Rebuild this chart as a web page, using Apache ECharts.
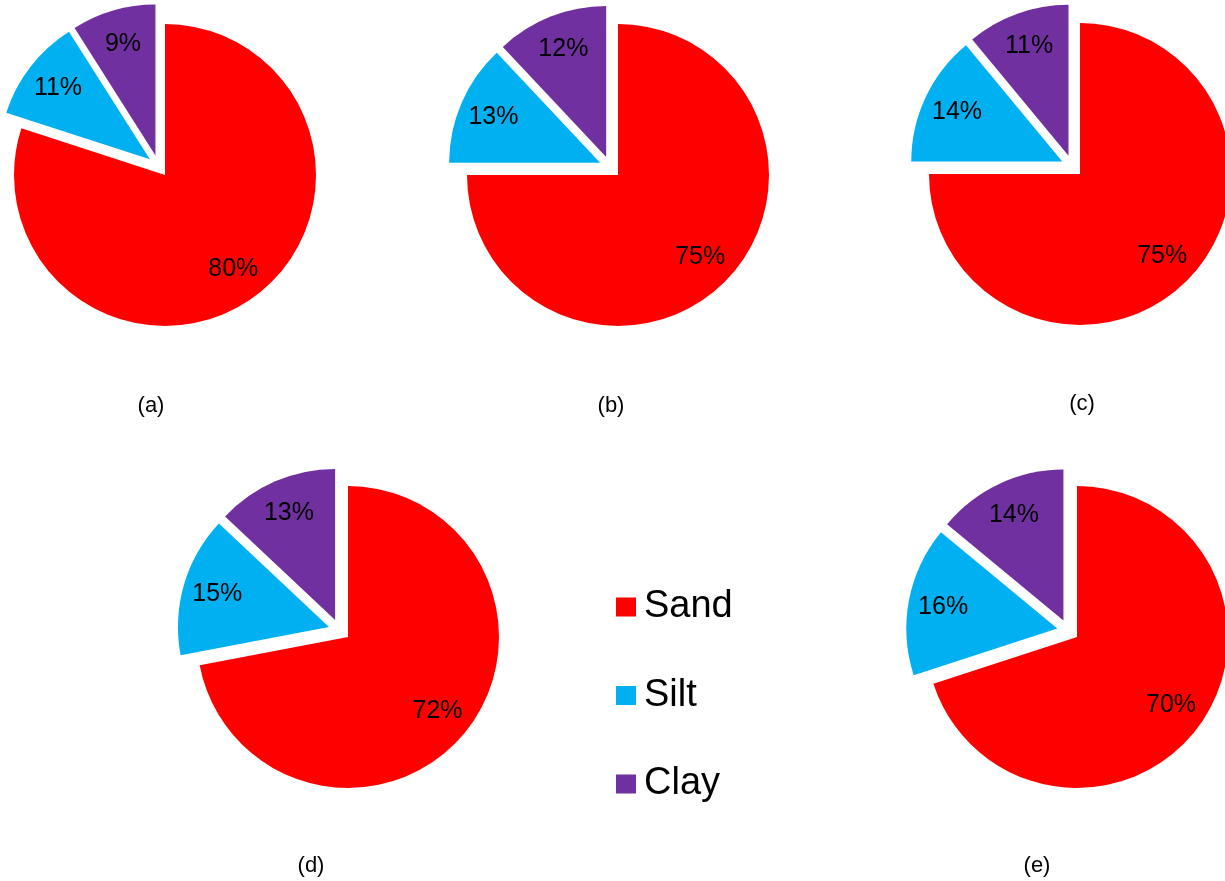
<!DOCTYPE html>
<html>
<head>
<meta charset="utf-8">
<script src="https://cdn.jsdelivr.net/npm/echarts@6/dist/echarts.min.js"></script>
<style>
html,body{margin:0;padding:0;background:#fff;}
#chart{width:1225px;height:881px;}
</style>
</head>
<body>
<div id="chart"></div>
<script>
var categories = ['Sand', 'Silt', 'Clay'];
var panelLabels = ['(a)', '(b)', '(c)', '(d)', '(e)'];
var sand = [80, 75, 75, 72, 70];
var silt = [11, 13, 14, 15, 16];
var clay = [9, 12, 11, 13, 14];

var colors = ['#FF0000', '#00B0F0', '#7030A0'];
var FONT = 'Liberation Sans, Arial, Helvetica, sans-serif';
var R = 151;
// where the (exploded) Sand slice's tip sits in each panel
var anchors = [[165, 175], [618, 175], [1080, 174], [348, 637], [1077, 637]];
var labelPos = [[151, 406], [611, 406], [1082, 404], [311, 866], [1037, 866]];
var OFFSET = 11; // every slice exploded by the same amount

// series centre = Sand tip moved back along the Sand mid-angle
function pieCenter(i) {
  var total = sand[i] + silt[i] + clay[i];
  var mid = (sand[i] / total) * Math.PI; // clockwise from 12 o'clock
  var dx = Math.sin(mid), dy = -Math.cos(mid);
  return [anchors[i][0] - OFFSET * dx, anchors[i][1] - OFFSET * dy];
}

function buildData(i, withColor) {
  var vals = [sand[i], silt[i], clay[i]];
  return categories.map(function (name, k) {
    var d = { name: name, value: vals[k], selected: true };
    if (withColor) d.itemStyle = { color: colors[k] };
    return d;
  });
}

var series = [];
panelLabels.forEach(function (p, i) {
  series.push({
    type: 'pie',
    center: pieCenter(i),
    radius: [0, R],
    startAngle: 90,
    clockwise: true,
    selectedMode: 'multiple',
    selectedOffset: OFFSET,
    avoidLabelOverlap: false,
    animation: false,
    silent: true,
    label: { show: false },
    labelLine: { show: false },
    itemStyle: { borderWidth: 0 },
    emphasis: { disabled: true },
    select: { itemStyle: { borderWidth: 0 } },
    data: buildData(i, true)
  });
});
panelLabels.forEach(function (p, i) {
  series.push({
    type: 'pie',
    center: pieCenter(i),
    radius: [R * 0.5, R],
    startAngle: 90,
    clockwise: true,
    selectedMode: 'multiple',
    selectedOffset: OFFSET,
    avoidLabelOverlap: false,
    animation: false,
    silent: true,
    itemStyle: { color: 'rgba(0,0,0,0)', borderWidth: 0 },
    emphasis: { disabled: true },
    select: { itemStyle: { color: 'rgba(0,0,0,0)', borderWidth: 0 } },
    label: {
      show: true,
      position: 'inside',
      formatter: '{c}%',
      color: '#000000',
      fontFamily: FONT,
      fontSize: 25
    },
    labelLine: { show: false },
    data: buildData(i, false)
  });
});

var graphics = panelLabels.map(function (t, i) {
  return {
    type: 'text',
    x: labelPos[i][0],
    y: labelPos[i][1],
    style: {
      text: t,
      fill: '#000000',
      font: '22px ' + FONT,
      textAlign: 'center',
      textVerticalAlign: 'middle'
    },
    silent: true
  };
});

var chart = echarts.init(document.getElementById('chart'), null, { renderer: 'canvas' });
chart.setOption({
  backgroundColor: '#ffffff',
  animation: false,
  legend: {
    data: categories,
    orient: 'vertical',
    left: 616,
    top: 587,
    padding: 0,
    icon: 'rect',
    itemWidth: 20,
    itemHeight: 19,
    itemGap: 48.5,
    selectedMode: false,
    textStyle: { fontFamily: FONT, fontSize: 38, color: '#000000', lineHeight: 40, padding: [0, 0, 0, 3] }
  },
  graphic: graphics,
  series: series
});
</script>
</body>
</html>
